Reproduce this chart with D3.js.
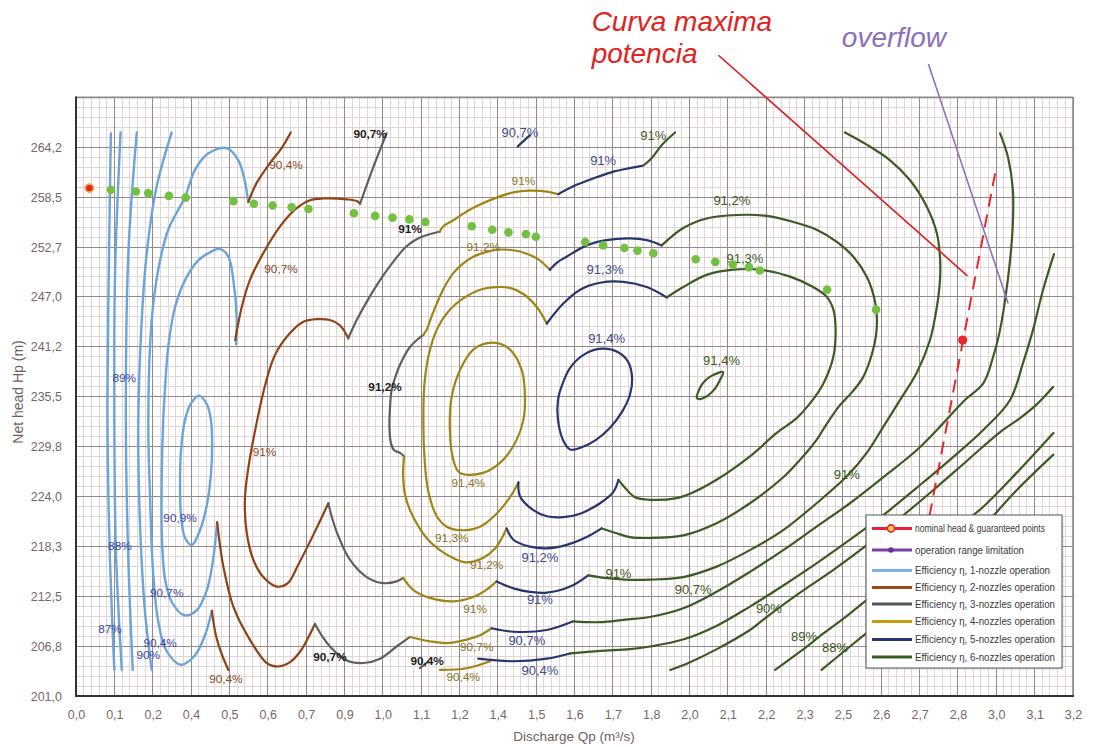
<!DOCTYPE html>
<html><head><meta charset="utf-8">
<script src="https://cdn.jsdelivr.net/npm/d3@7"></script>
<style>
html,body{margin:0;padding:0;background:#fff;}
svg{display:block;font-family:"Liberation Sans",Arial,Helvetica,sans-serif;}
</style></head><body>
<svg id="chart" width="1097" height="747"></svg>
<script>
// ---- axis ticks (discharge Qp in m3/s, net head Hp in m) ----
const xTickLabels = ["0,0","0,1","0,2","0,4","0,5","0,6","0,7","0,9","1,0","1,1","1,2","1,4","1,5","1,6","1,7","1,8","2,0","2,1","2,2","2,3","2,5","2,6","2,7","2,8","3,0","3,1","3,2"];
const yTickLabels = ["201,0","206,8","212,5","218,3","224,0","229,8","235,5","241,2","247,0","252,7","258,5","264,2"];

// ---- iso-efficiency curves, [Qp, Hp] ----
const nozzle1 = [
  {level:"87%", pts:[[0.112,265.8],[0.106,252.0],[0.101,235.1],[0.103,225.9],[0.109,216.7],[0.116,209.8],[0.123,204.0]]},
  {level:"88%", pts:[[0.143,265.9],[0.127,252.0],[0.123,243.2],[0.123,232.8],[0.128,217.8],[0.147,204.0]]},
  {level:"89%", pts:[[0.195,265.9],[0.168,252.0],[0.160,232.8],[0.167,217.8],[0.182,204.0]]},
  {level:"90%", pts:[[0.307,265.9],[0.259,259.7],[0.227,252.0],[0.211,244.3],[0.200,232.8],[0.205,221.3],[0.221,210.9],[0.243,204.0]]},
  {level:"90,4%", pts:[[0.553,257.9],[0.540,260.6],[0.521,262.7],[0.484,264.1],[0.425,263.5],[0.382,261.6],[0.350,258.5],[0.296,254.7],[0.264,250.1],[0.243,244.3],[0.232,232.8],[0.238,223.6],[0.247,215.5],[0.263,209.8],[0.289,206.3],[0.337,204.6],[0.382,205.7],[0.414,208.0],[0.436,210.8]]},
  {level:"90,7%", pts:[[0.514,241.5],[0.516,244.3],[0.505,248.9],[0.489,251.6],[0.462,252.5],[0.430,252.1],[0.393,251.2],[0.350,248.9],[0.318,245.8],[0.296,241.2],[0.286,236.6],[0.280,232.8],[0.275,225.9],[0.276,219.0],[0.286,214.4],[0.308,211.8],[0.347,210.3],[0.388,210.9],[0.420,213.2],[0.440,216.7],[0.453,221.0]]},
  {level:"90,9%", closed:true, pts:[[0.395,235.6],[0.420,234.6],[0.433,232.8],[0.437,229.9],[0.433,226.5],[0.420,223.0],[0.398,220.1],[0.372,218.4],[0.350,219.2],[0.337,221.8],[0.334,225.3],[0.337,229.3],[0.350,232.8],[0.369,234.7]]}
];
const nozzle2 = [
  {level:"90,4%", pts:[[0.553,257.9],[0.580,260.1],[0.623,262.4],[0.660,264.1],[0.689,265.9]]},
  {level:"90,7%", pts:[[0.511,242.0],[0.532,245.8],[0.558,248.9],[0.601,252.0],[0.655,255.1],[0.708,257.2],[0.751,258.1],[0.794,258.3],[0.869,258.2],[0.901,258.0],[0.912,257.7]]},
  {level:"91%", pts:[[0.874,242.2],[0.847,243.7],[0.815,244.3],[0.773,244.4],[0.730,244.1],[0.687,242.8],[0.639,240.3],[0.607,236.8],[0.575,231.6],[0.552,227.0],[0.542,223.6],[0.548,219.8],[0.569,216.7],[0.601,214.7],[0.645,213.6],[0.680,214.0],[0.713,216.1],[0.761,219.5],[0.810,223.2]]},
  {level:"90,4%", pts:[[0.436,210.8],[0.449,208.0],[0.469,205.7],[0.489,204.0]]},
  {level:"90,7%", pts:[[0.453,221.0],[0.462,218.4],[0.473,215.9],[0.505,211.3],[0.558,207.5],[0.612,204.8],[0.648,204.4],[0.687,204.9],[0.719,206.1],[0.745,207.7],[0.767,209.3]]}
];
const nozzle3 = [
  {level:"90,7%", pts:[[0.912,257.7],[0.953,261.8],[0.997,265.8]]},
  {level:"91%", pts:[[0.874,242.2],[0.901,244.3],[0.933,246.4],[0.976,248.9],[1.018,251.0],[1.061,252.8],[1.104,253.8],[1.147,254.3],[1.168,254.5]]},
  {level:"91,2%", pts:[[1.115,242.6],[1.094,242.0],[1.072,241.2],[1.050,239.9],[1.029,238.2],[1.013,236.2],[1.008,234.3],[1.006,232.0],[1.011,230.1],[1.021,229.3],[1.040,229.0],[1.053,228.6]]},
  {level:"91%", pts:[[0.810,223.2],[0.822,221.5],[0.841,219.5],[0.879,216.7],[0.933,214.7],[0.986,214.0],[1.029,214.2],[1.050,214.6]]},
  {level:"90,7%", pts:[[0.767,209.3],[0.790,207.9],[0.815,206.7],[0.869,205.1],[0.922,204.8],[0.976,205.3],[1.029,206.7],[1.072,207.8]]},
  {level:"90,4%", pts:[[1.104,204.2],[1.131,205.0]]}
];
const nozzle4 = [
  {level:"91%", pts:[[1.168,254.5],[1.179,255.1],[1.211,255.8],[1.254,256.8],[1.297,257.6],[1.350,258.4],[1.404,259.0],[1.457,259.2],[1.511,259.1],[1.548,258.8]]},
  {level:"91,2%", pts:[[1.115,242.6],[1.126,243.2],[1.139,244.5],[1.158,246.2],[1.181,248.0],[1.211,249.7],[1.242,250.8],[1.275,251.6],[1.313,252.1],[1.350,252.4],[1.387,252.4],[1.425,252.2],[1.479,251.4],[1.521,250.1]]},
  {level:"91,2%", pts:[[1.053,228.6],[1.050,226.5],[1.056,224.2],[1.072,222.4],[1.098,220.6],[1.130,219.0],[1.168,217.8],[1.210,216.9],[1.252,216.4],[1.306,216.9],[1.345,218.0],[1.367,219.2],[1.382,220.3]]},
  {level:"91,3%", pts:[[1.511,243.9],[1.479,245.8],[1.436,247.3],[1.393,248.0],[1.350,248.1],[1.297,247.8],[1.243,246.8],[1.200,245.5],[1.158,243.2],[1.131,240.1],[1.118,236.8],[1.115,232.8],[1.119,228.2],[1.130,224.7],[1.158,221.7],[1.190,220.5],[1.232,220.1],[1.297,220.5],[1.350,222.0],[1.393,223.9],[1.420,225.6]]},
  {level:"91,4%", closed:true, pts:[[1.339,241.7],[1.393,240.9],[1.431,238.5],[1.441,235.5],[1.436,232.8],[1.414,230.5],[1.371,228.2],[1.307,226.7],[1.232,226.7],[1.211,228.2],[1.200,231.6],[1.206,235.5],[1.232,238.5],[1.275,240.9]]},
  {level:"91%", pts:[[1.050,214.6],[1.083,213.2],[1.136,212.3],[1.211,211.9],[1.275,212.4],[1.316,213.2],[1.350,214.2]]},
  {level:"90,7%", pts:[[1.072,207.8],[1.136,207.3],[1.190,207.1],[1.254,207.5],[1.297,208.0],[1.334,208.8]]},
  {level:"90,4%", pts:[[1.168,204.0],[1.254,204.2],[1.329,205.0]]}
];
const nozzle5 = [
  {level:"90,7%", pts:[[1.418,264.3],[1.457,265.6]]},
  {level:"91%", pts:[[1.548,258.8],[1.596,259.7],[1.660,260.6],[1.725,261.4],[1.778,261.8],[1.821,262.1]]},
  {level:"91,2%", pts:[[1.521,250.1],[1.547,251.0],[1.575,251.6],[1.639,252.9],[1.703,253.5],[1.778,253.7],[1.832,253.5],[1.880,252.9]]},
  {level:"91,3%", pts:[[1.511,243.9],[1.564,246.2],[1.618,247.8],[1.682,248.6],[1.757,248.7],[1.832,248.1],[1.896,246.9]]},
  {level:"91,4%", closed:true, pts:[[1.687,241.0],[1.740,240.6],[1.772,239.5],[1.785,237.6],[1.778,235.7],[1.752,233.7],[1.714,231.9],[1.669,230.5],[1.627,229.7],[1.586,229.4],[1.563,230.5],[1.547,232.8],[1.547,235.1],[1.560,236.8],[1.586,238.8],[1.634,240.4]]},
  {level:"91,3%", pts:[[1.420,225.6],[1.425,224.0],[1.468,222.4],[1.511,221.7],[1.564,221.6],[1.618,222.0],[1.682,223.2],[1.725,224.5],[1.741,225.9]]},
  {level:"91,2%", pts:[[1.382,220.3],[1.404,219.0],[1.457,218.2],[1.511,218.0],[1.575,218.4],[1.639,219.3],[1.687,220.3]]},
  {level:"91%", pts:[[1.350,214.2],[1.404,213.4],[1.457,213.0],[1.511,212.9],[1.586,213.6],[1.644,214.9]]},
  {level:"90,7%", pts:[[1.334,208.8],[1.404,208.4],[1.511,208.6],[1.596,209.6]]},
  {level:"90,4%", pts:[[1.291,205.3],[1.404,205.0],[1.511,205.3],[1.586,205.9]]}
];
const nozzle6 = [
  {level:"91%", pts:[[1.821,262.1],[1.849,263.0],[1.881,264.5],[1.923,265.9]]},
  {level:"91,2%", pts:[[1.880,252.9],[1.949,254.9],[2.024,256.0],[2.121,256.4],[2.217,256.3],[2.302,255.6],[2.377,254.7],[2.442,253.3],[2.495,251.6],[2.538,249.3],[2.561,247.0],[2.570,244.9],[2.568,242.6],[2.554,240.3],[2.526,237.7],[2.491,236.0],[2.452,234.5],[2.407,232.2],[2.377,230.5],[2.324,228.2],[2.270,226.2],[2.163,223.2],[2.056,220.9],[1.949,219.5],[1.842,219.2],[1.778,219.3],[1.730,219.8],[1.687,220.3]]},
  {level:"91,3%", pts:[[1.896,246.9],[1.949,248.1],[2.024,249.5],[2.110,250.1],[2.195,250.1],[2.292,249.3],[2.366,248.1],[2.409,247.0],[2.431,245.5],[2.438,243.2],[2.431,240.1],[2.399,237.0],[2.356,234.7],[2.313,233.0],[2.249,231.3],[2.163,228.6],[2.056,225.9],[1.971,224.3],[1.928,223.8],[1.842,223.6],[1.794,223.9],[1.762,225.0],[1.741,225.9]]},
  {level:"91,4%", closed:true, pts:[[1.993,235.3],[2.003,236.5],[2.019,237.3],[2.041,237.9],[2.077,238.3],[2.067,237.4],[2.051,236.4],[2.028,235.6],[2.003,235.2]]},
  {level:"91%", pts:[[2.468,265.9],[2.538,264.5],[2.613,262.7],[2.677,260.4],[2.730,257.4],[2.763,254.3],[2.773,251.6],[2.773,248.9],[2.763,245.8],[2.741,242.0],[2.698,238.2],[2.645,235.1],[2.591,232.0],[2.538,229.0],[2.474,226.3],[2.377,223.2],[2.270,220.1],[2.163,217.8],[2.056,215.9],[1.949,214.7],[1.842,214.4],[1.762,214.4],[1.698,214.6],[1.644,214.9]]},
  {level:"90,7%", pts:[[1.596,209.6],[1.682,209.5],[1.762,209.8],[1.842,210.1],[1.949,211.1],[2.056,213.0],[2.163,215.3],[2.270,217.8],[2.377,220.5],[2.484,223.2],[2.591,226.2],[2.698,229.3],[2.783,232.4],[2.853,235.1],[2.912,237.0],[2.944,240.1],[2.966,243.2],[2.982,246.6],[2.998,251.2],[3.007,255.5],[3.007,259.3],[2.991,263.1],[2.966,265.8]]},
  {level:"90,4%", pts:[[1.586,205.9],[1.682,206.2],[1.778,206.4],[1.842,206.7],[1.948,207.5],[2.057,209.1],[2.163,211.3],[2.269,213.7],[2.378,216.3],[2.484,219.0],[2.590,221.8],[2.699,225.0],[2.805,228.2],[2.911,231.6],[2.998,235.1],[3.040,239.4],[3.072,243.2],[3.104,247.8],[3.139,251.9]]},
  {level:"90%", pts:[[1.907,204.0],[1.971,204.9],[2.057,206.4],[2.163,208.6],[2.224,210.3],[2.324,212.9],[2.430,215.5],[2.539,218.4],[2.645,221.5],[2.751,224.7],[2.860,228.1],[2.966,231.4],[3.030,233.0],[3.081,234.5],[3.136,236.6]]},
  {level:"89%", pts:[[2.244,204.0],[2.324,206.1],[2.399,208.2],[2.484,210.5],[2.591,213.6],[2.698,216.7],[2.805,219.7],[2.912,222.8],[3.019,226.7],[3.137,231.3]]},
  {level:"88%", pts:[[2.393,204.0],[2.484,206.7],[2.591,209.8],[2.698,212.8],[2.805,216.7],[2.912,220.5],[3.019,224.7],[3.137,228.8]]}
];

// ---- curve labels: [text, Qp, Hp] ----
const nozzle1Labels = [["89%",0.155,237.7],["88%",0.141,218.3],["87%",0.109,208.8],["90,9%",0.334,221.5],["90,7%",0.291,212.9],["90,4%",0.270,207.1],["90%",0.232,205.7]];
const nozzle2Labels = [["90,4%",0.674,262.2],["90,7%",0.658,250.2],["91%",0.605,229.1],["90,4%",0.481,203.0]];
const nozzle3Labels = [["90,7%",0.944,265.8],["91%",1.072,254.8],["91,2%",0.992,236.6],["90,7%",0.815,205.5],["90,4%",1.127,205.1]];
const nozzle4Labels = [["91%",1.436,260.4],["91,2%",1.307,252.8],["91,4%",1.259,225.6],["91,3%",1.206,219.2],["91,2%",1.318,216.1],["91%",1.281,211.1],["90,7%",1.286,206.7],["90,4%",1.243,203.2]];
const nozzle5Labels = [["90,7%",1.425,265.9],["91%",1.692,262.7],["91,3%",1.698,250.1],["91,4%",1.703,242.2],["91,2%",1.489,217.0],["91%",1.489,212.1],["90,7%",1.447,207.4],["90,4%",1.489,204.0]];
const nozzle6Labels = [["91%",1.853,265.6],["91,2%",2.105,258.1],["91,3%",2.147,251.4],["91,4%",2.072,239.7],["91%",2.474,226.5],["91%",1.741,215.1],["90,7%",1.981,213.3],["90%",2.224,211.1],["89%",2.337,207.9],["88%",2.436,206.6]];

// ---- guaranteed operating points [Qp, Hp] ----
const nominalPoint = [0.043,259.5];
const guaranteedPoints = [[0.112,259.3],[0.192,259.1],[0.232,258.9],[0.298,258.6],[0.352,258.4],[0.505,258.0],[0.571,257.7],[0.631,257.5],[0.692,257.3],[0.746,257.1],[0.892,256.6],[0.960,256.3],[1.016,256.1],[1.070,255.9],[1.121,255.6],[1.270,255.1],[1.336,254.7],[1.388,254.4],[1.444,254.2],[1.476,253.9],[1.634,253.3],[1.692,252.9],[1.760,252.6],[1.802,252.3],[1.853,252.0],[1.989,251.3],[2.052,251.0],[2.108,250.7],[2.160,250.4],[2.195,250.0],[2.411,247.8],[2.568,245.5]];

// ---- maximum power line and its rated point ----
const maxPowerLine = [[2.950,261.2],[2.738,221.5]];
const ratedPoint = [2.846,242.0];

// ---- callouts ----
const calloutMaxPower = {lines:["Curva maxima","potencia"], text:[1.655,277.6], from:[2.062,274.8], to:[2.861,249.4]};
const calloutOverflow = {lines:["overflow"], text:[2.458,275.8], from:[2.736,273.8], to:[2.992,246.2]};

const legendItems = [
  {kind:"nominal", text:"nominal head & guaranteed points", len:130},
  {kind:"range", text:"operation range limitation", len:109},
  {kind:"n1", text:"Efficiency η, 1-nozzle operation", len:135},
  {kind:"n2", text:"Efficiency η, 2-nozzles operation", len:140},
  {kind:"n3", text:"Efficiency η, 3-nozzles operation", len:140},
  {kind:"n4", text:"Efficiency η, 4-nozzles operation", len:140},
  {kind:"n5", text:"Efficiency η, 5-nozzles operation", len:140},
  {kind:"n6", text:"Efficiency η, 6-nozzles operation", len:140}
];

// ---------------- drawing ----------------
const svg = d3.select("#chart");
const PL = 76, PR = 1073, PB = 696, PT = 97.4;
const yTop = 201 + 63.2 * 12 / 11;
const x = d3.scaleLinear().domain([0, 3.2]).range([PL, PR]);
const y = d3.scaleLinear().domain([201, yTop]).range([PB, PT]);

const colors = {n1:"#6aa4d8", n2:"#8e4216", n3:"#5f5f5f", n4:"#9e8515", n5:"#26366f", n6:"#3a5b25"};
const labelColors = {n1:"#3d48a2", n2:"#8a4a2c", n3:"#1c1c1c", n4:"#857428", n5:"#3b4c8c", n6:"#3a5a27"};

svg.append("rect").attr("width",1097).attr("height",747).attr("fill","#fff");
svg.append("rect").attr("x",PL).attr("y",PT).attr("width",PR-PL).attr("height",PB-PT).attr("fill","#fff");

// grid: five minor divisions per labelled step
const majorX = d3.range(27).map(i => i * 3.2 / 26);
const minorX = d3.range(131).filter(i => i % 5).map(i => i * 3.2 / 130);
const majorY = d3.range(13).map(i => 201 + i * 63.2 / 11);
const minorY = d3.range(61).filter(i => i % 5).map(i => 201 + i * 63.2 / 55);
const grid = svg.append("g").attr("shape-rendering","crispEdges");
grid.selectAll(".mx").data(minorX).join("line")
  .attr("x1",d=>x(d)).attr("x2",d=>x(d)).attr("y1",PT).attr("y2",PB)
  .attr("stroke","#e3d5d5").attr("stroke-width",1);
grid.selectAll(".my").data(minorY).join("line")
  .attr("y1",d=>y(d)).attr("y2",d=>y(d)).attr("x1",PL).attr("x2",PR)
  .attr("stroke","#e3d5d5").attr("stroke-width",1);
grid.selectAll(".Mx").data(majorX).join("line")
  .attr("x1",d=>x(d)).attr("x2",d=>x(d)).attr("y1",PT).attr("y2",PB)
  .attr("stroke","#948888").attr("stroke-width",1);
grid.selectAll(".My").data(majorY).join("line")
  .attr("y1",d=>y(d)).attr("y2",d=>y(d)).attr("x1",PL).attr("x2",PR)
  .attr("stroke","#948888").attr("stroke-width",1);

// frame
svg.append("line").attr("x1",PL).attr("x2",PR).attr("y1",PT).attr("y2",PT).attr("stroke","#8a8a8a").attr("stroke-width",1.6);
svg.append("line").attr("x1",PR).attr("x2",PR).attr("y1",PT).attr("y2",PB).attr("stroke","#8a8a8a").attr("stroke-width",1.6);

// axes
const xAxis = d3.axisBottom(x).tickValues(majorX).tickFormat((d,i)=>xTickLabels[i]).tickSize(0).tickPadding(14.5);
const yAxis = d3.axisLeft(y).tickValues(majorY.slice(0,12)).tickFormat((d,i)=>yTickLabels[i]).tickSize(0).tickPadding(14);
const gx = svg.append("g").attr("transform",`translate(0,${PB})`).call(xAxis);
const gy = svg.append("g").attr("transform",`translate(${PL},0)`).call(yAxis);
[gx, gy].forEach(g => {
  g.select(".domain").remove();
  g.selectAll("text").attr("fill","#776767").attr("font-size",12.5).attr("font-family","'Liberation Sans',Arial,sans-serif");
});
svg.append("line").attr("x1",PL).attr("x2",PR+1).attr("y1",PB).attr("y2",PB).attr("stroke","#333").attr("stroke-width",2);
svg.append("line").attr("x1",PL).attr("x2",PL).attr("y1",PT-1).attr("y2",PB+1).attr("stroke","#333").attr("stroke-width",2);

svg.append("text").attr("x",574).attr("y",741).attr("text-anchor","middle")
  .attr("font-size",13.5).attr("fill","#6d6060").text("Discharge Qp (m³/s)");
svg.append("text").attr("transform","translate(23,392) rotate(-90)").attr("text-anchor","middle")
  .attr("font-size",14).attr("fill","#6d6060").text("Net head Hp (m)");

// iso-efficiency curves, one colour per number of nozzles in operation
const openLine = d3.line().x(d=>x(d[0])).y(d=>y(d[1])).curve(d3.curveCatmullRom.alpha(0.5));
const closedLine = d3.line().x(d=>x(d[0])).y(d=>y(d[1])).curve(d3.curveCatmullRomClosed.alpha(0.5));
const curveLayer = svg.append("g").attr("fill","none").attr("stroke-linejoin","round").attr("stroke-linecap","round");
[["n1",nozzle1],["n2",nozzle2],["n3",nozzle3],["n4",nozzle4],["n5",nozzle5],["n6",nozzle6]].forEach(([key, set]) => {
  curveLayer.append("g").selectAll("path").data(set).join("path")
    .attr("d", d => (d.closed ? closedLine : openLine)(d.pts))
    .attr("stroke", colors[key])
    .attr("stroke-width", key === "n1" ? 2.4 : 2.2);
});

// curve labels
const labelLayer = svg.append("g").attr("text-anchor","middle");
[["n1",nozzle1Labels,11.8],["n2",nozzle2Labels,11.8],["n3",nozzle3Labels,11.8],["n4",nozzle4Labels,11.8],["n5",nozzle5Labels,13],["n6",nozzle6Labels,13]].forEach(([key, set, fs]) => {
  labelLayer.append("g").selectAll("text").data(set).join("text")
    .attr("x", d => x(d[1])).attr("y", d => y(d[2])).attr("dy","0.36em")
    .attr("font-size", fs).attr("fill", labelColors[key])
    .attr("font-weight", key === "n3" ? "bold" : "normal")
    .text(d => d[0]);
});

// maximum power line
svg.append("path").attr("d", d3.line().x(d=>x(d[0])).y(d=>y(d[1]))(maxPowerLine))
  .attr("fill","none").attr("stroke","#e8262b").attr("stroke-width",2).attr("stroke-dasharray","13,8");

// guaranteed points
svg.append("g").selectAll("circle").data(guaranteedPoints).join("circle")
  .attr("cx",d=>x(d[0])).attr("cy",d=>y(d[1])).attr("r",4.3).attr("fill","#73c043");
svg.append("circle").attr("cx",x(nominalPoint[0])).attr("cy",y(nominalPoint[1])).attr("r",4)
  .attr("fill","#e3261f").attr("stroke","#f0a048").attr("stroke-width",1.6);
svg.append("circle").attr("cx",x(ratedPoint[0])).attr("cy",y(ratedPoint[1])).attr("r",4.6).attr("fill","#e8262b");

// callouts
svg.append("line").attr("x1",x(calloutMaxPower.from[0])).attr("y1",y(calloutMaxPower.from[1]))
  .attr("x2",x(calloutMaxPower.to[0])).attr("y2",y(calloutMaxPower.to[1]))
  .attr("stroke","#d91f26").attr("stroke-width",1.6);
svg.append("line").attr("x1",x(calloutOverflow.from[0])).attr("y1",y(calloutOverflow.from[1]))
  .attr("x2",x(calloutOverflow.to[0])).attr("y2",y(calloutOverflow.to[1]))
  .attr("stroke","#8b72bd").attr("stroke-width",1.6);
const cm = svg.append("text").attr("x",x(calloutMaxPower.text[0])).attr("y",y(calloutMaxPower.text[1]))
  .attr("font-size",28).attr("font-style","italic").attr("fill","#e0231d");
calloutMaxPower.lines.forEach((t,i)=>cm.append("tspan").attr("x",x(calloutMaxPower.text[0])).attr("dy", i ? 32.3 : 0).text(t));
svg.append("text").attr("x",x(calloutOverflow.text[0])).attr("y",y(calloutOverflow.text[1]))
  .attr("font-size",28).attr("font-style","italic").attr("fill","#8a6fba").text(calloutOverflow.lines[0]);

// legend
const lg = svg.append("g").attr("transform","translate(866,515)");
lg.append("rect").attr("x",1.5).attr("y",1.5).attr("width",196).attr("height",153).attr("fill","#bdbdbd").attr("opacity",0.5);
lg.append("rect").attr("width",196).attr("height",153).attr("fill","#fff").attr("stroke","#555").attr("stroke-width",1);
const rowY = [13.5, 35, 55.5, 72.5, 89, 106.5, 124.5, 142];
const legendColor = {nominal:"#e8203a", range:"#7a3fa4", n1:"#7fb1e3", n2:"#9c4a1c", n3:"#555555", n4:"#c49a12", n5:"#26366f", n6:"#3a5b25"};
legendItems.forEach((it,i) => {
  const g = lg.append("g").attr("transform",`translate(0,${rowY[i]})`);
  g.append("line").attr("x1",6).attr("x2",46).attr("stroke",legendColor[it.kind]).attr("stroke-width",3);
  if (it.kind === "nominal") g.append("circle").attr("cx",25).attr("r",3.6).attr("fill","#f2d43a").attr("stroke","#e8203a").attr("stroke-width",1.6);
  if (it.kind === "range") g.append("circle").attr("cx",25).attr("r",2.8).attr("fill","#6a2f9a");
  g.append("text").attr("x",49).attr("dy","0.35em").attr("font-size",10).attr("fill","#3a3a3a")
    .attr("textLength",it.len).attr("lengthAdjust","spacingAndGlyphs").text(it.text);
});
</script></body></html>
